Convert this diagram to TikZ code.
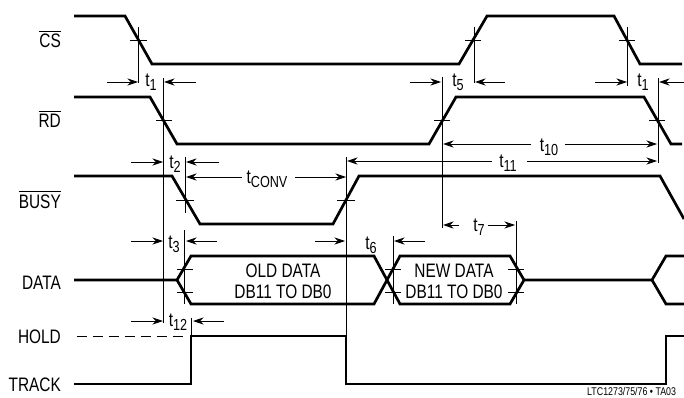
\documentclass[tikz,border=0pt]{standalone}
\usepackage{amsmath}
\usepackage{xcolor}
\usepackage{fontspec}
\setmainfont[FakeStretch=0.79]{Liberation Sans}
\usetikzlibrary{arrows.meta}
\newcommand{\tsub}[1]{t\raisebox{-4pt}{\fontsize{16}{16}\selectfont #1}}
\newcommand{\barlabel}[1]{$\overline{\mbox{#1}}$}
\tikzset{
    every node/.style={font=\fontsize{19.5}{21}\selectfont,inner sep=0pt},
    signal/.style={line width=2.7pt,line join=miter,miter limit=4},
    rule/.style={line width=0.8pt},
    dimarrow/.style={line width=0.8pt,-{Stealth[length=10.5pt,width=7pt]}}
}

\begin{document}
\begin{tikzpicture}[x=1pt,y=-1pt]
                \useasboundingbox (0,0) rectangle (684,398);

                % Draw signal traces
                \draw[signal] (74,16) -- (125,16) -- (152,64) -- (459,64) -- (487,16) -- (614,16) -- (640,64) -- (682,64);
                \draw[signal] (74,97) -- (150,97) -- (177,144) -- (429,144) -- (456,97) -- (644,97) -- (671,144) -- (682,144);
                \draw[signal] (74,176) -- (172,176) -- (200,224) -- (333,224) -- (359,176) -- (660,176) -- (684,219);
                \draw[signal] (74,280) -- (177,280) -- (191,256) -- (374,256) -- (400,304) -- (510,304) -- (524,280) -- (652,280) -- (666,256) -- (684,256);
                \draw[signal] (177,280) -- (191,304) -- (374,304) -- (400,256) -- (510,256) -- (524,280);
                \draw[signal] (652,280) -- (666,304) -- (684,304);
                \draw[signal] (74,384) -- (191,384) -- (191,336) -- (346,336) -- (346,384) -- (666,384) -- (666,336) -- (684,336);
                \draw[rule,dash pattern=on 10pt off 6pt] (77,336) -- (186,336);

                % Draw reference lines
                \foreach \x/\ya/\yb in {138/27/83, 163.5/78/323, 185/157/213, 184.7/230/304, 346/157/336,
                    442/77/228, 474/27/83, 627/27/86, 658/78/163, 393/236/304, 516/221/304, 191/318/336} {
                    \draw[rule] (\x,\ya) -- (\x,\yb);
                }

                % Draw threshold ticks
                \foreach \xa/\xb/\y in {130/147/40, 465/481/40, 619/635/40, 156/172/120, 434/450/120, 649/665/120,
                    176/194/200, 337/355/200, 177/193/269, 177/193/292, 385/401/269, 385/401/292, 508/524/269, 508/524/292} {
                    \draw[rule] (\xa,\y) -- (\xb,\y);
                }

                % Draw timing arrows
                \foreach \xa/\xb/\y in {107/138/82, 196/164/82, 410/441/82, 505/475/82, 595/627/82, 684/659/82,
                    131/163/162, 219/186/162, 242/186/177, 295/346/177, 531/443/144, 565/657/144,
                    492/347/161, 527/657/161, 131/163/241, 217/186/241, 315/345/241, 425/394/241,
                    459/443/225, 488/515/225, 131/163/321, 224/193/321} {
                    \draw[dimarrow] (\xa,\y) -- (\xb,\y);
                }

                % Signal names
                \node[anchor=base east] (cslabel) at (61,48) {\barlabel{CS}};
                \node[anchor=base east] (rdlabel) at (61,128) {\barlabel{RD}};
                \node[anchor=base east] (busylabel) at (61,208) {\barlabel{BUSY}};
                \node[anchor=base east] (datalabel) at (61,289) {DATA};
                \node[anchor=base east] (holdlabel) at (61,343) {HOLD};
                \node[anchor=base east] (tracklabel) at (61,391) {TRACK};

                % Timing labels
                \node[anchor=base] (tonea) at (151,87) {\tsub{1}};
                \node[anchor=base] (tfive) at (458,87) {\tsub{5}};
                \node[anchor=base] (toneb) at (643,87) {\tsub{1}};
                \node[anchor=base] (ttwo) at (175,168) {\tsub{2}};
                \node[anchor=base] (tconv) at (267,183) {\tsub{CONV}};
                \node[anchor=base] (tten) at (549,151) {\tsub{10}};
                \node[anchor=base] (televen) at (508,167) {\tsub{11}};
                \node[anchor=base] (tthree) at (174,248) {\tsub{3}};
                \node[anchor=base] (tsix) at (371,249) {\tsub{6}};
                \node[anchor=base] (tseven) at (479,231) {\tsub{7}};
                \node[anchor=base] (ttwelve) at (178,326) {\tsub{12}};

                % Data labels
                \node[anchor=base] (olddata) at (283,277) {OLD DATA};
                \node[anchor=base] (oldbits) at (283,298) {DB11 TO DB0};
                \node[anchor=base] (newdata) at (454,277) {NEW DATA};
                \node[anchor=base] (newbits) at (454,298) {DB11 TO DB0};
                \node[anchor=base west,font=\fontsize{11.2}{12}\selectfont] (partnumber) at (587,395.5) {LTC1273/75/76 • TA03};
            \end{tikzpicture}
\end{document}
